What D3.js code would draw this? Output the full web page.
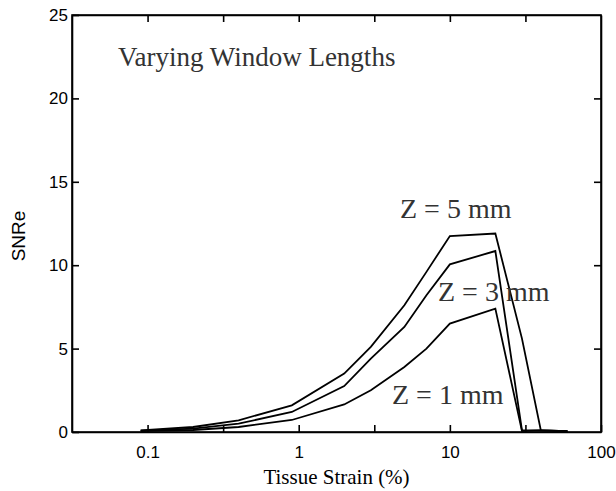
<!DOCTYPE html>
<html>
<head>
<meta charset="utf-8">
<script src="https://d3js.org/d3.v7.min.js"></script>
<style>
  body { margin: 0; padding: 0; background: #fff; }
  .tick text { font-family: "Liberation Sans", Arial, sans-serif; font-size: 17px; fill: #000; }
  .note { font-family: "Liberation Serif", "Times New Roman", serif; fill: #333; }
</style>
</head>
<body>
<script>
// strain (%) values shared by the three curves
var strain = [0.09, 0.2, 0.4, 0.9, 2, 3, 5, 7, 10, 20, 30, 40, 60];
// SNRe for each window length
var snrZ5 = [0.1, 0.3, 0.7, 1.6, 3.5, 5.1, 7.6, 9.6, 11.75, 11.9, 5.6, 0.1, 0.05];
var snrZ3 = [0.08, 0.2, 0.5, 1.2, 2.75, 4.4, 6.3, 8.2, 10.05, 10.85, 0.1, 0.1, 0.05];
var snrZ1 = [0.05, 0.12, 0.3, 0.72, 1.65, 2.5, 3.9, 5.0, 6.5, 7.4, 0.05, 0.1, 0.05];
var seriesNames = ["Z = 5 mm", "Z = 3 mm", "Z = 1 mm"];
var xTickLabels = [0.1, 1, 10, 100];
var yTicks = [0, 5, 10, 15, 20, 25];

var w = 616, h = 491;
var margin = {left: 72, right: 15, top: 15, bottom: 59};

var svg = d3.select("body").append("svg")
    .attr("width", w)
    .attr("height", h);

var x = d3.scaleLog()
    .domain([Math.pow(10, -1.5), 100])
    .range([margin.left, w - margin.right]);
var y = d3.scaleLinear()
    .domain([0, 25])
    .range([h - margin.bottom, margin.top]);

// half-decade ticks, labels only on decades
var xTicks = d3.range(-1, 2.01, 0.5).map(function(e) { return Math.pow(10, e); });
var fmt = function(d) {
  var hit = xTickLabels.filter(function(v) { return Math.abs(v - d) / v < 1e-6; });
  return hit.length ? String(hit[0]) : "";
};

var xAxis = d3.axisBottom(x).tickValues(xTicks).tickSizeInner(-7).tickSizeOuter(0).tickPadding(14).tickFormat(fmt);
var xTop = d3.axisTop(x).tickValues(xTicks.slice(0, -1)).tickSizeInner(-7).tickSizeOuter(0).tickFormat("");
var yAxis = d3.axisLeft(y).tickValues(yTicks).tickSizeInner(-7).tickSizeOuter(0).tickPadding(4);
var yRight = d3.axisRight(y).tickValues(yTicks.slice(1, -1)).tickSizeInner(-7).tickSizeOuter(0).tickFormat("");

svg.append("g").attr("transform", "translate(0," + (h - margin.bottom) + ")").call(xAxis)
   .selectAll(".tick text").attr("dy", "0.71em");
svg.append("g").attr("transform", "translate(0," + margin.top + ")").call(xTop);
svg.append("g").attr("transform", "translate(" + margin.left + ",0)").call(yAxis);
svg.append("g").attr("transform", "translate(" + (w - margin.right) + ",0)").call(yRight);

svg.selectAll(".domain, .tick line").attr("stroke", "#000").attr("stroke-width", 1.6);
svg.selectAll(".tick text").attr("font-family", null).attr("font-size", null);

// frame round the plot
svg.append("rect")
    .attr("x", margin.left).attr("y", margin.top)
    .attr("width", w - margin.left - margin.right)
    .attr("height", h - margin.top - margin.bottom)
    .attr("fill", "none").attr("stroke", "#000").attr("stroke-width", 1.6);

var line = d3.line()
    .x(function(d) { return x(d[0]); })
    .y(function(d) { return y(d[1]); });

[snrZ5, snrZ3, snrZ1].forEach(function(vals) {
  svg.append("path")
     .datum(strain.map(function(s, i) { return [s, vals[i]]; }))
     .attr("d", line)
     .attr("fill", "none")
     .attr("stroke", "#000")
     .attr("stroke-width", 1.8);
});

// labels
svg.append("text").attr("class", "note")
   .attr("x", 118).attr("y", 66)
   .attr("font-size", 27)
   .text("Varying Window Lengths");

var labelPos = [[400, 218], [438, 301], [392, 404]];
seriesNames.forEach(function(n, i) {
  svg.append("text").attr("class", "note")
     .attr("x", labelPos[i][0]).attr("y", labelPos[i][1])
     .attr("font-size", 28)
     .text(n);
});

svg.append("text")
   .attr("x", (margin.left + w - margin.right) / 2)
   .attr("y", 484)
   .attr("text-anchor", "middle")
   .attr("font-family", "Liberation Serif, Times New Roman, serif")
   .attr("font-size", 21)
   .text("Tissue Strain (%)");

svg.append("text")
   .attr("transform", "translate(25,236) rotate(-90)")
   .attr("text-anchor", "middle")
   .attr("font-family", "Liberation Sans, Arial, sans-serif")
   .attr("font-size", 19)
   .text("SNRe");
</script>
</body>
</html>
